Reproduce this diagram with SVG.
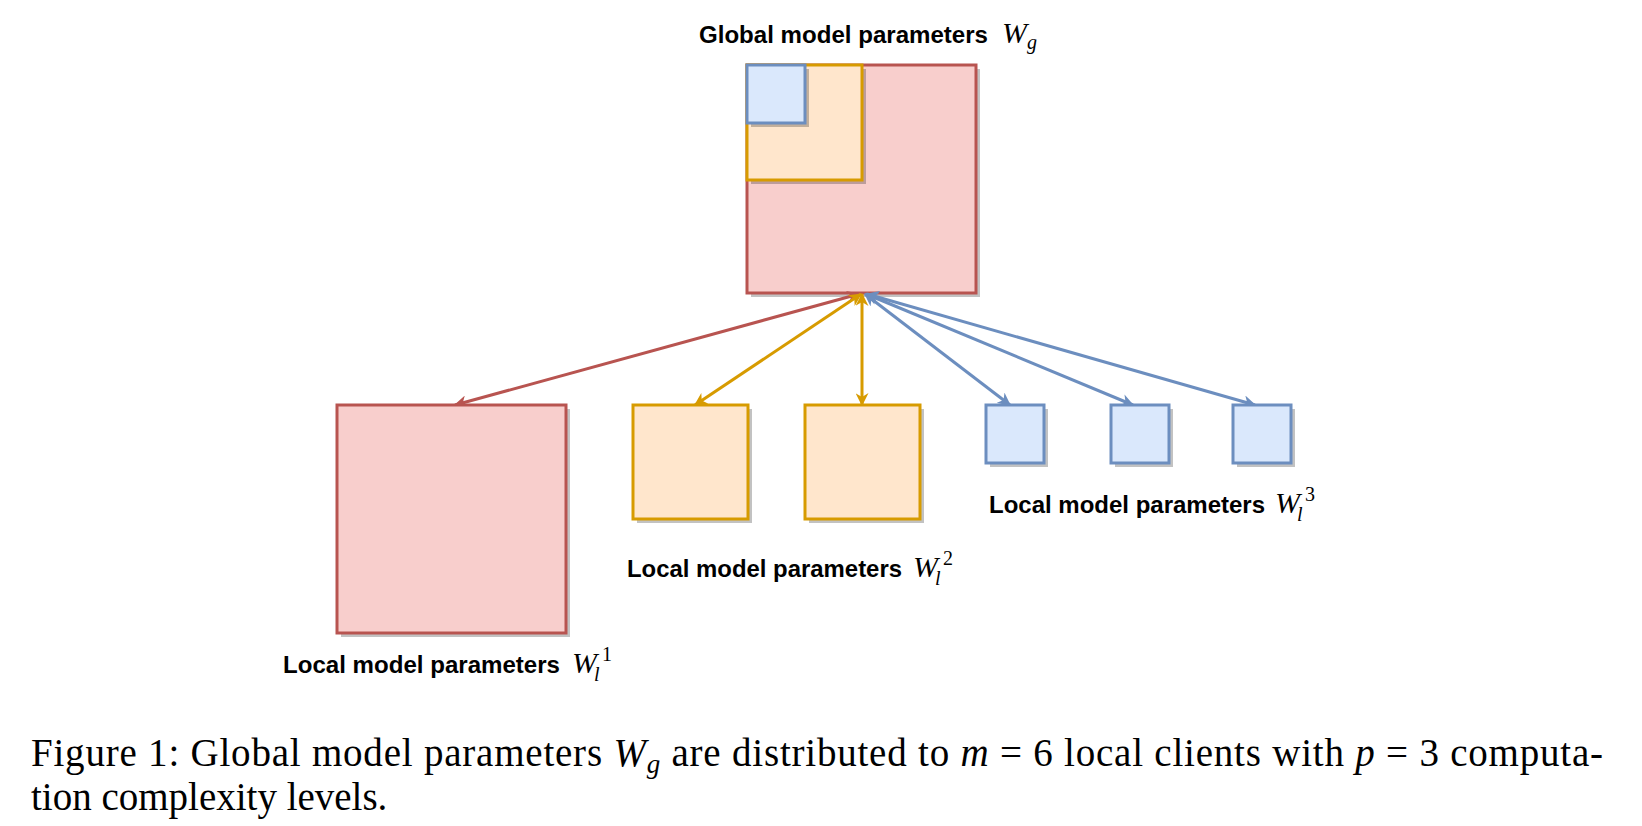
<svg xmlns="http://www.w3.org/2000/svg" width="1642" height="826" viewBox="0 0 1642 826">
<style>
.red{fill:#f8cecc;stroke:#b85450;stroke-width:3}
.ora{fill:#ffe6cc;stroke:#d79b00;stroke-width:3}
.blu{fill:#dae8fc;stroke:#6c8ebf;stroke-width:3}
.sh{fill:#000;opacity:0.24}
.lbl{font-family:"Liberation Sans",Arial,sans-serif;font-weight:bold;font-size:24px;fill:#000}
.mw{font-family:"Liberation Serif","Times New Roman",serif;font-style:italic;font-size:30px;fill:#000}
.ms{font-family:"Liberation Serif","Times New Roman",serif;font-size:20px;fill:#000}
.msi{font-family:"Liberation Serif","Times New Roman",serif;font-style:italic;font-size:20px;fill:#000}
.cap{font-family:"Liberation Serif","Times New Roman",serif;font-size:39px;fill:#000}
.c{fill:none;stroke-width:3}
</style>
<defs>
<marker id="aR" viewBox="0 0 12 12" refX="11" refY="6" markerWidth="13" markerHeight="13" markerUnits="userSpaceOnUse" orient="auto-start-reverse"><path d="M0,0 L12,6 L0,12 L3.5,6 Z" fill="#b85450"/></marker>
<marker id="aO" viewBox="0 0 12 12" refX="11" refY="6" markerWidth="13" markerHeight="13" markerUnits="userSpaceOnUse" orient="auto-start-reverse"><path d="M0,0 L12,6 L0,12 L3.5,6 Z" fill="#d79b00"/></marker>
<marker id="aB" viewBox="0 0 12 12" refX="11" refY="6" markerWidth="13" markerHeight="13" markerUnits="userSpaceOnUse" orient="auto-start-reverse"><path d="M0,0 L12,6 L0,12 L3.5,6 Z" fill="#6c8ebf"/></marker>
</defs>
<rect width="1642" height="826" fill="#fff"/>

<g id="global">
<rect class="sh" x="751" y="69" width="229" height="228"/>
<rect class="red" x="747" y="65" width="229" height="228"/>
<rect class="sh" x="751" y="69" width="115" height="115"/>
<rect class="ora" x="747" y="65" width="115" height="115"/>
<rect class="sh" x="751" y="69" width="58" height="58"/>
<rect class="blu" x="747" y="65" width="58" height="58"/>
</g>
<g id="global-label">
<text class="lbl" x="699" y="43" textLength="289" lengthAdjust="spacingAndGlyphs">Global model parameters</text>
<text class="mw" x="1002" y="43">W</text><text class="msi" x="1027" y="49">g</text>
</g>

<g id="connectors">
<path class="c" stroke="#b85450" d="M859,294 L455,405" marker-start="url(#aR)" marker-end="url(#aR)"/>
<path class="c" stroke="#d79b00" d="M861,294 L695,405" marker-start="url(#aO)" marker-end="url(#aO)"/>
<path class="c" stroke="#d79b00" d="M862,294 L862,405" marker-start="url(#aO)" marker-end="url(#aO)"/>
<path class="c" stroke="#6c8ebf" d="M865,294 L1010,405" marker-start="url(#aB)" marker-end="url(#aB)"/>
<path class="c" stroke="#6c8ebf" d="M866,294 L1133,405" marker-start="url(#aB)" marker-end="url(#aB)"/>
<path class="c" stroke="#6c8ebf" d="M867,294 L1255,405" marker-start="url(#aB)" marker-end="url(#aB)"/>
</g>

<g id="local1">
<rect class="sh" x="341" y="409" width="229" height="228"/>
<rect class="red" x="337" y="405" width="229" height="228"/>
</g>
<g id="local2a">
<rect class="sh" x="637" y="409" width="115" height="114"/>
<rect class="ora" x="633" y="405" width="115" height="114"/>
</g>
<g id="local2b">
<rect class="sh" x="809" y="409" width="115" height="114"/>
<rect class="ora" x="805" y="405" width="115" height="114"/>
</g>
<g id="local3a">
<rect class="sh" x="990" y="409" width="58" height="58"/>
<rect class="blu" x="986" y="405" width="58" height="58"/>
</g>
<g id="local3b">
<rect class="sh" x="1115" y="409" width="58" height="58"/>
<rect class="blu" x="1111" y="405" width="58" height="58"/>
</g>
<g id="local3c">
<rect class="sh" x="1237" y="409" width="58" height="58"/>
<rect class="blu" x="1233" y="405" width="58" height="58"/>
</g>

<g id="label1">
<text class="lbl" x="283" y="673" textLength="277" lengthAdjust="spacingAndGlyphs">Local model parameters</text>
<text class="mw" x="572" y="673">W</text><text class="msi" x="594" y="681">l</text><text class="ms" x="602" y="661">1</text>
</g>
<g id="label2">
<text class="lbl" x="627" y="577" textLength="275" lengthAdjust="spacingAndGlyphs">Local model parameters</text>
<text class="mw" x="913" y="577">W</text><text class="msi" x="935" y="585">l</text><text class="ms" x="943" y="565">2</text>
</g>
<g id="label3">
<text class="lbl" x="989" y="513" textLength="276" lengthAdjust="spacingAndGlyphs">Local model parameters</text>
<text class="mw" x="1275" y="513">W</text><text class="msi" x="1297" y="521">l</text><text class="ms" x="1305" y="501">3</text>
</g>

<g id="caption">
<text class="cap" x="31" y="766" textLength="1572" lengthAdjust="spacing">Figure 1: Global model parameters <tspan font-style="italic">W</tspan><tspan font-style="italic" font-size="27" dy="7">g</tspan><tspan dy="-7"> are distributed to </tspan><tspan font-style="italic">m</tspan> = 6 local clients with <tspan font-style="italic">p</tspan> = 3 computa-</text>
<text class="cap" x="31" y="810">tion complexity levels.</text>
</g>
</svg>
